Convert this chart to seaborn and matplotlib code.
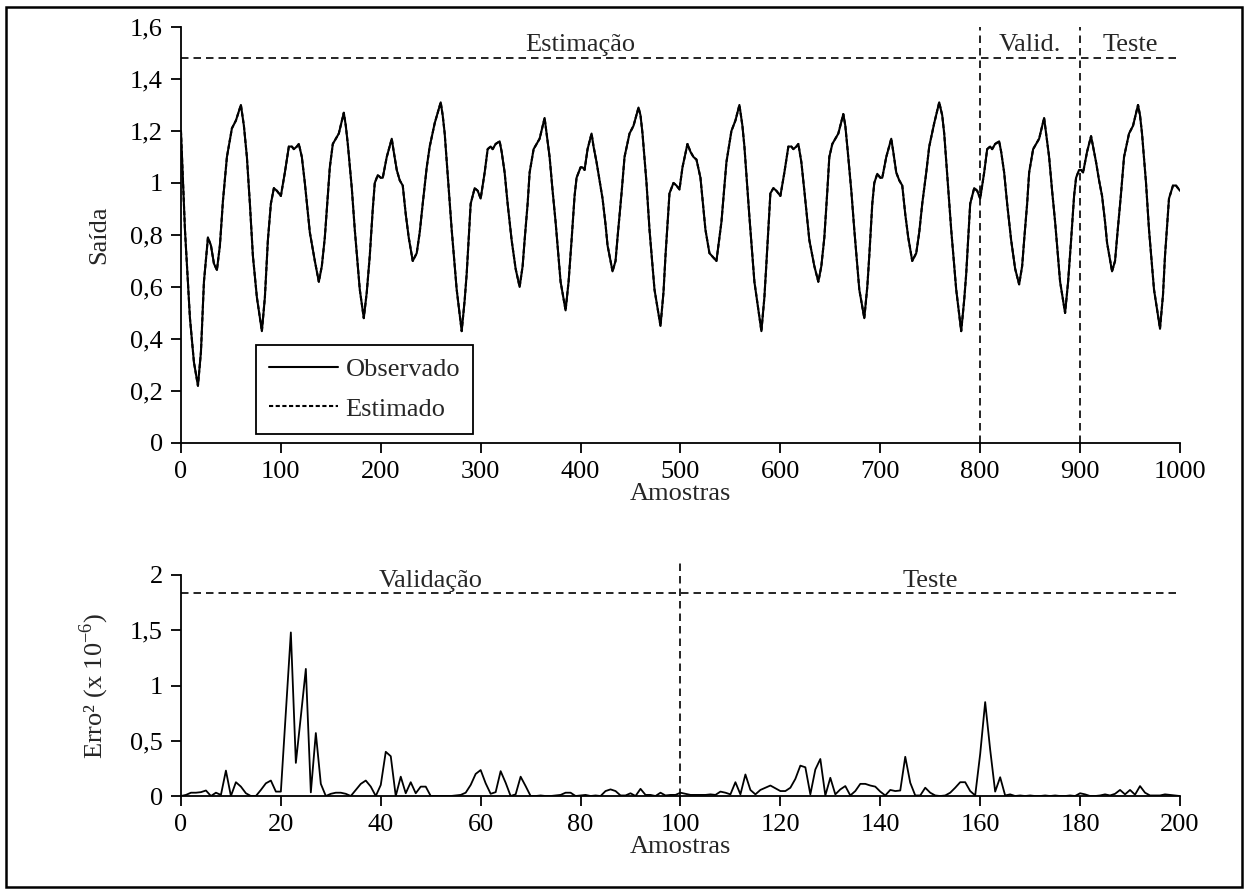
import matplotlib

matplotlib.use("Agg")
import matplotlib.pyplot as plt
import numpy as np
import seaborn as sns
from matplotlib.patches import Rectangle
from matplotlib.ticker import FuncFormatter, MultipleLocator

# ---------------------------------------------------------------- data
# top panel: output signal (observed ~= estimated), knots read off the picture
saida_amostra = [
    0, 4, 9, 13, 17, 20, 23, 27, 30, 33, 36, 39, 42, 46, 51, 55, 60, 63, 66, 69,
    72, 76, 81, 84, 87, 90, 93, 96, 100, 104, 108, 111, 113, 116, 118, 121, 124, 129, 134, 138,
    141, 144, 147, 149, 152, 155, 158, 163, 165, 167, 171, 174, 179, 183, 186, 189, 192, 194, 197, 200,
    202, 206, 211, 213, 216, 219, 222, 225, 228, 232, 236, 239, 242, 246, 249, 254, 260, 262, 264, 267,
    271, 276, 281, 284, 286, 290, 294, 297, 300, 304, 307, 310, 312, 315, 319, 321, 324, 327, 331, 335,
    339, 342, 344, 347, 349, 353, 356, 359, 364, 366, 369, 372, 375, 380, 385, 388, 391, 394, 396, 400,
    402, 404, 407, 411, 413, 416, 419, 422, 425, 427, 432, 435, 437, 441, 444, 449, 453, 458, 460, 462,
    466, 469, 474, 480, 483, 485, 489, 493, 496, 499, 502, 507, 510, 513, 516, 520, 525, 529, 536, 541,
    546, 551, 555, 559, 562, 564, 569, 574, 581, 584, 586, 590, 593, 596, 600, 604, 608, 611, 613, 616,
    618, 621, 624, 629, 634, 638, 641, 644, 647, 649, 652, 655, 658, 663, 665, 667, 671, 674, 679, 684,
    687, 689, 692, 694, 697, 700, 702, 706, 711, 713, 716, 719, 722, 725, 728, 732, 736, 739, 742, 746,
    749, 754, 759, 762, 764, 767, 771, 776, 781, 784, 786, 790, 794, 797, 800, 804, 807, 810, 812, 815,
    819, 821, 824, 827, 831, 835, 839, 842, 844, 847, 849, 853, 856, 859, 864, 866, 869, 872, 875, 880,
    885, 888, 891, 894, 896, 899, 901, 903, 907, 911, 913, 916, 919, 922, 925, 927, 932, 935, 937, 941,
    944, 949, 953, 958, 960, 962, 966, 969, 974, 980, 983, 985, 989, 993, 996, 1000,
]
saida_obs = [
    1.20, 0.82, 0.48, 0.31, 0.22, 0.35, 0.62, 0.79, 0.76, 0.69, 0.665, 0.76, 0.93, 1.10, 1.21, 1.24, 1.30, 1.22, 1.10, 0.92,
    0.72, 0.56, 0.43, 0.56, 0.78, 0.92, 0.98, 0.97, 0.95, 1.04, 1.14, 1.14, 1.13, 1.14, 1.15, 1.10, 1.00, 0.81, 0.70, 0.62,
    0.68, 0.79, 0.95, 1.06, 1.15, 1.17, 1.19, 1.27, 1.22, 1.15, 0.98, 0.82, 0.59, 0.48, 0.58, 0.72, 0.90, 1.00, 1.03, 1.02,
    1.02, 1.10, 1.17, 1.12, 1.05, 1.01, 0.99, 0.88, 0.79, 0.70, 0.73, 0.81, 0.92, 1.06, 1.14, 1.23, 1.31, 1.26, 1.19, 1.03,
    0.82, 0.59, 0.43, 0.55, 0.65, 0.92, 0.98, 0.97, 0.94, 1.04, 1.13, 1.14, 1.13, 1.15, 1.16, 1.12, 1.04, 0.92, 0.78, 0.67,
    0.60, 0.68, 0.78, 0.92, 1.04, 1.13, 1.15, 1.17, 1.25, 1.19, 1.10, 0.97, 0.85, 0.62, 0.51, 0.62, 0.78, 0.95, 1.02, 1.06,
    1.06, 1.05, 1.13, 1.19, 1.14, 1.08, 1.01, 0.94, 0.84, 0.76, 0.66, 0.70, 0.79, 0.96, 1.10, 1.19, 1.22, 1.29, 1.26, 1.19,
    1.00, 0.82, 0.59, 0.45, 0.58, 0.72, 0.96, 1.00, 0.99, 0.975, 1.06, 1.15, 1.12, 1.10, 1.09, 1.02, 0.82, 0.73, 0.70, 0.85,
    1.08, 1.20, 1.24, 1.30, 1.22, 1.14, 0.87, 0.62, 0.43, 0.56, 0.69, 0.96, 0.98, 0.97, 0.95, 1.04, 1.14, 1.14, 1.13, 1.14,
    1.15, 1.08, 0.97, 0.78, 0.68, 0.62, 0.68, 0.79, 0.97, 1.10, 1.15, 1.17, 1.19, 1.265, 1.22, 1.14, 0.97, 0.82, 0.59, 0.48,
    0.60, 0.72, 0.92, 1.00, 1.035, 1.02, 1.02, 1.10, 1.17, 1.12, 1.04, 1.01, 0.99, 0.88, 0.79, 0.70, 0.73, 0.81, 0.92, 1.04,
    1.14, 1.23, 1.31, 1.26, 1.19, 1.03, 0.82, 0.59, 0.43, 0.55, 0.65, 0.92, 0.98, 0.97, 0.94, 1.04, 1.13, 1.14, 1.13, 1.15,
    1.16, 1.12, 1.04, 0.92, 0.78, 0.67, 0.61, 0.68, 0.78, 0.92, 1.04, 1.13, 1.15, 1.17, 1.25, 1.19, 1.10, 0.97, 0.85, 0.62,
    0.50, 0.62, 0.78, 0.95, 1.02, 1.05, 1.05, 1.04, 1.12, 1.18, 1.14, 1.08, 1.01, 0.95, 0.85, 0.77, 0.66, 0.70, 0.79, 0.96,
    1.10, 1.19, 1.22, 1.30, 1.26, 1.19, 1.00, 0.82, 0.59, 0.44, 0.57, 0.72, 0.94, 0.99, 0.99, 0.97,
]
# the estimate lies on top of the observation everywhere
saida_est = list(saida_obs)

# bottom panel: squared error (x 1e-6), one value per sample 0..200
erro2 = [
    0.0, 0.01, 0.03, 0.03, 0.035, 0.05, 0.0, 0.03, 0.01, 0.23,
    0.0, 0.125, 0.085, 0.025, 0.0, 0.0, 0.055, 0.115, 0.14, 0.04,
    0.04, 0.76, 1.48, 0.30, 0.72, 1.15, 0.033, 0.57, 0.11, 0.0,
    0.02, 0.03, 0.03, 0.02, 0.0, 0.055, 0.11, 0.14, 0.085, 0.0,
    0.10, 0.40, 0.36, 0.0, 0.175, 0.025, 0.125, 0.025, 0.085, 0.085,
    0.0, 0.0, 0.0, 0.0, 0.0, 0.005, 0.01, 0.03, 0.10, 0.20,
    0.235, 0.115, 0.02, 0.035, 0.225, 0.12, 0.0, 0.015, 0.175, 0.09,
    0.0, 0.0, 0.005, 0.0, 0.0, 0.005, 0.01, 0.03, 0.03, 0.0,
    0.005, 0.01, 0.0, 0.005, 0.0, 0.045, 0.06, 0.045, 0.005, 0.005,
    0.025, 0.0, 0.065, 0.01, 0.01, 0.0, 0.03, 0.005, 0.01, 0.01,
    0.03, 0.02, 0.01, 0.01, 0.01, 0.01, 0.015, 0.01, 0.04, 0.03,
    0.015, 0.125, 0.015, 0.195, 0.055, 0.015, 0.055, 0.075, 0.095, 0.07,
    0.045, 0.045, 0.075, 0.155, 0.275, 0.26, 0.015, 0.24, 0.335, 0.005,
    0.165, 0.015, 0.06, 0.09, 0.005, 0.045, 0.11, 0.11, 0.095, 0.085,
    0.04, 0.005, 0.055, 0.045, 0.05, 0.355, 0.12, 0.005, 0.005, 0.075,
    0.03, 0.005, 0.0, 0.005, 0.03, 0.075, 0.125, 0.125, 0.045, 0.005,
    0.38, 0.85, 0.42, 0.04, 0.17, 0.005, 0.015, 0.0, 0.005, 0.0,
    0.005, 0.0, 0.0, 0.005, 0.0, 0.005, 0.0, 0.0, 0.005, 0.0,
    0.025, 0.015, 0.0, 0.0, 0.005, 0.015, 0.005, 0.02, 0.055, 0.015,
    0.055, 0.012, 0.09, 0.03, 0.005, 0.005, 0.005, 0.015, 0.01, 0.005,
    0.0,
]

# region boundaries and labels
topo_limites = [800, 900]
topo_nivel = 1.48
topo_rotulos = ["Estimação", "Valid.", "Teste"]
topo_rotulo_x = [400, 850, 950]
base_limites = [100]
base_nivel = 1.84
base_rotulos = ["Validação", "Teste"]
base_rotulo_x = [50, 150]

# ---------------------------------------------------------------- style
sns.set_theme(style="ticks")
plt.rcParams["font.family"] = ["Liberation Serif", "DejaVu Serif"]
plt.rcParams["mathtext.fontset"] = "custom"
plt.rcParams["mathtext.rm"] = "Liberation Serif"
plt.rcParams["font.size"] = 19
FS = 19


def virgula(v, _pos):
    return f"{v:g}".replace(".", ",")


def estilo(ax, xmax, xstep, ymax, ystep):
    ax.set_xlim(0, xmax)
    ax.set_ylim(0, ymax)
    ax.xaxis.set_major_locator(MultipleLocator(xstep))
    ax.yaxis.set_major_locator(MultipleLocator(ystep))
    ax.yaxis.set_major_formatter(FuncFormatter(virgula))
    ax.tick_params(direction="out", length=7, width=1.3, colors="black",
                   labelsize=FS, pad=6)
    for side in ("top", "right"):
        ax.spines[side].set_visible(False)
    for side in ("left", "bottom"):
        ax.spines[side].set_linewidth(1.3)
        ax.spines[side].set_color("black")
    ax.set_facecolor("white")


fig = plt.figure(figsize=(12.48, 8.92), dpi=100)
fig.patch.set_facecolor("white")
ax1 = fig.add_axes([0.145, 0.5034, 0.8005, 0.4664])
ax2 = fig.add_axes([0.145, 0.1076, 0.8005, 0.2478])

dash_reg = (0, (4.5, 3))

# ---------------------------------------------------------------- top
sns.lineplot(x=saida_amostra, y=saida_obs, ax=ax1, color="black", lw=1.5,
             label="Observado")
sns.lineplot(x=saida_amostra, y=saida_est, ax=ax1, color="black", lw=1.5,
             linestyle=(0, (2, 1.2)), label="Estimado")
ax1.plot([0, 1000], [topo_nivel, topo_nivel], color="black", lw=1.2,
         linestyle=dash_reg)
for xv in topo_limites:
    ax1.plot([xv, xv], [0, 1.6], color="black", lw=1.2, linestyle=dash_reg,
             clip_on=False)
for txt, xv in zip(topo_rotulos, topo_rotulo_x):
    ax1.text(xv, 1.53, txt, ha="center", va="center", fontsize=FS)
estilo(ax1, 1000, 100, 1.6, 0.2)
ax1.set_xlabel("Amostras", fontsize=FS, labelpad=0)
ax1.set_ylabel("Saída", fontsize=FS, labelpad=14)
leg = ax1.legend(loc="lower left", bbox_to_anchor=(0.075, 0.022),
                 frameon=True, fancybox=False, fontsize=FS,
                 handlelength=2.6, borderpad=0.5, labelspacing=0.6,
                 handletextpad=0.3, borderaxespad=0)
leg.get_frame().set_edgecolor("black")
leg.get_frame().set_linewidth(1.3)
leg.get_frame().set_alpha(1)

# ---------------------------------------------------------------- bottom
sns.lineplot(x=np.arange(len(erro2)), y=erro2, ax=ax2, color="black", lw=1.3)
ax2.plot([0, 200], [base_nivel, base_nivel], color="black", lw=1.2,
         linestyle=dash_reg)
for xv in base_limites:
    ax2.plot([xv, xv], [0, 2.12], color="black", lw=1.2, linestyle=dash_reg,
             clip_on=False)
for txt, xv in zip(base_rotulos, base_rotulo_x):
    ax2.text(xv, 1.95, txt, ha="center", va="center", fontsize=FS)
estilo(ax2, 200, 20, 2, 0.5)
ax2.set_xlabel("Amostras", fontsize=FS, labelpad=0)
ax2.set_ylabel("Erro² (x 10$^{\\mathrm{-6}}$)", fontsize=FS, labelpad=14)

# outer frame of the chart area
fig.patches.append(Rectangle((0.005, 0.006), 0.99, 0.986, transform=fig.transFigure,
                             fill=False, lw=1.8, ec="black"))

fig.savefig("out.png", dpi=100, facecolor="white")
